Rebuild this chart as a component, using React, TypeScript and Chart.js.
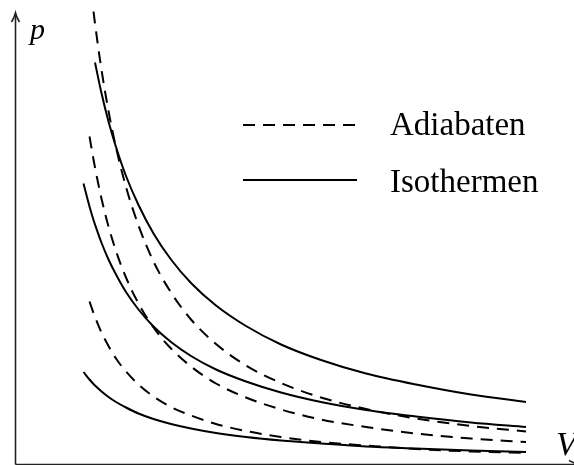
import React, { useEffect, useRef } from "react";
import { Chart, registerables } from "chart.js";

Chart.register(...registerables);

// Volume grid (V) shared by all curves
const volumes = [1.35, 1.47, 1.55, 1.58, 1.7, 1.85, 2.0, 2.2, 2.45, 2.75, 3.1, 3.5, 4.0, 4.6, 5.3, 6.1, 7.0, 8.0, 9.1, 10.2];

// Isothermen (solid)
const isothermHigh = [null, null, null, 8.03, 7.46, 6.85, 6.34, 5.76, 5.18, 4.61, 4.09, 3.62, 3.17, 2.76, 2.39, 2.08, 1.81, 1.59, 1.39, 1.24];
const isothermMid = [5.61, 5.15, 4.88, 4.79, 4.45, 4.09, 3.79, 3.44, 3.09, 2.75, 2.44, 2.16, 1.89, 1.65, 1.43, 1.24, 1.08, 0.95, 0.83, 0.74];
const isothermLow = [1.84, 1.69, 1.6, 1.57, 1.46, 1.34, 1.24, 1.13, 1.01, 0.9, 0.8, 0.71, 0.62, 0.54, 0.47, 0.41, 0.35, 0.31, 0.27, 0.24];

// Adiabaten (dashed)
const adiabatHigh = [null, null, 9.05, 8.81, 7.95, 7.06, 6.33, 5.54, 4.77, 4.05, 3.43, 2.89, 2.4, 1.97, 1.62, 1.33, 1.1, 0.91, 0.76, 0.65];
const adiabatMid = [null, 6.55, 6.09, 5.93, 5.35, 4.75, 4.26, 3.73, 3.21, 2.73, 2.31, 1.95, 1.61, 1.33, 1.09, 0.89, 0.74, 0.61, 0.51, 0.44];
const adiabatLow = [null, 3.25, 3.02, 2.94, 2.65, 2.36, 2.11, 1.85, 1.59, 1.35, 1.14, 0.97, 0.8, 0.66, 0.54, 0.44, 0.37, 0.3, 0.25, 0.22];

const labelAdiabat = "Adiabaten";
const labelIsotherm = "Isothermen";
const axisLabelX = "V";
const axisLabelY = "p";

const W = 574;
const H = 465;
const DASH = [12, 8];
const SERIF = '"Liberation Serif", "DejaVu Serif", serif';

function toPoints(ps: (number | null)[]) {
  const out: { x: number; y: number }[] = [];
  ps.forEach((p, i) => {
    if (p !== null) out.push({ x: volumes[i], y: p });
  });
  return out;
}

function line(label: string, ps: (number | null)[], dashed: boolean) {
  return {
    label,
    data: toPoints(ps),
    borderColor: "#000",
    borderWidth: 2,
    borderDash: dashed ? DASH : [],
    pointRadius: 0,
    fill: false,
    cubicInterpolationMode: "monotone" as const,
    clip: false as const,
  };
}

const decorPlugin = {
  id: "decor",
  afterDraw(chart: any) {
    const ctx = chart.ctx as CanvasRenderingContext2D;
    const xs = chart.scales.x;
    const ys = chart.scales.y;
    const ox = Math.round(xs.getPixelForValue(-0.02)) + 0.5;
    const oy = Math.round(ys.getPixelForValue(0.01)) + 0.5;
    ctx.save();
    ctx.strokeStyle = "#222";
    ctx.lineWidth = 1.6;
    ctx.setLineDash([]);
    // y axis
    ctx.beginPath();
    ctx.moveTo(ox, oy);
    ctx.lineTo(ox, 13);
    ctx.stroke();
    // y arrow
    ctx.beginPath();
    ctx.moveTo(ox - 4, 22);
    ctx.quadraticCurveTo(ox - 1, 17, ox, 13);
    ctx.quadraticCurveTo(ox + 1, 17, ox + 4, 22);
    ctx.stroke();
    // x axis
    ctx.beginPath();
    ctx.moveTo(ox, oy);
    ctx.lineTo(W + 6, oy);
    ctx.stroke();
    // x arrow
    ctx.beginPath();
    ctx.moveTo(W - 5, oy - 4);
    ctx.quadraticCurveTo(W + 1, oy - 1, W + 5, oy);
    ctx.quadraticCurveTo(W + 1, oy + 1, W - 5, oy + 4);
    ctx.stroke();

    // axis labels
    ctx.fillStyle = "#000";
    ctx.textBaseline = "alphabetic";
    ctx.textAlign = "left";
    ctx.font = `italic 30px ${SERIF}`;
    ctx.fillText(axisLabelY, 30, 39);
    ctx.font = `italic 34px ${SERIF}`;
    ctx.fillText(axisLabelX, 556, 455);

    // legend
    const entries = [
      { ds: chart.data.datasets[3], y: 125, base: 135 },
      { ds: chart.data.datasets[0], y: 180, base: 192 },
    ];
    ctx.font = `33px ${SERIF}`;
    entries.forEach((e) => {
      ctx.strokeStyle = "#000";
      ctx.lineWidth = 2;
      ctx.setLineDash(e.ds.borderDash || []);
      ctx.beginPath();
      ctx.moveTo(243, e.y);
      ctx.lineTo(357, e.y);
      ctx.stroke();
      ctx.setLineDash([]);
      ctx.fillText(e.ds.label, 390, e.base);
    });
    ctx.restore();
  },
};

export default function App() {
  const ref = useRef<HTMLCanvasElement | null>(null);
  useEffect(() => {
    document.body.style.margin = "0";
    const canvas = ref.current;
    if (!canvas) return;
    const chart = new Chart(canvas, {
      type: "line",
      data: {
        datasets: [
          line(labelIsotherm, isothermHigh, false),
          line(labelIsotherm, isothermMid, false),
          line(labelIsotherm, isothermLow, false),
          line(labelAdiabat, adiabatHigh, true),
          line(labelAdiabat, adiabatMid, true),
          line(labelAdiabat, adiabatLow, true),
        ] as any,
      },
      options: {
        animation: false,
        responsive: false,
        devicePixelRatio: 1,
        layout: { padding: 0 },
        plugins: { legend: { display: false }, tooltip: { enabled: false } },
        events: [],
        scales: {
          x: { type: "linear", min: -0.32, max: 11.16, display: false },
          y: { type: "linear", min: -0.02, max: 9.28, display: false },
        },
      },
      plugins: [decorPlugin],
    });
    return () => chart.destroy();
  }, []);
  return (
    <div style={{ position: "fixed", left: 0, top: 0, width: W, height: H, background: "#fff" }}>
      <canvas ref={ref} width={W} height={H} style={{ display: "block" }} />
    </div>
  );
}
